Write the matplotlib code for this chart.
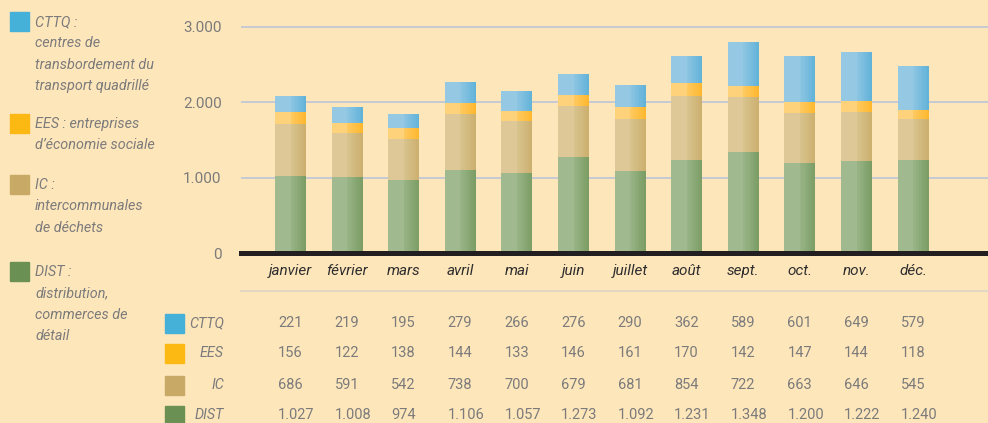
import matplotlib
matplotlib.use("Agg")
import matplotlib.pyplot as plt
import numpy as np
from matplotlib.colors import to_rgb

months = ["janvier", "février", "mars", "avril", "mai", "juin",
          "juillet", "août", "sept.", "oct.", "nov.", "déc."]
series_names = ["CTTQ", "EES", "IC", "DIST"]
cttq = [221, 219, 195, 279, 266, 276, 290, 362, 589, 601, 649, 579]
ees = [156, 122, 138, 144, 133, 146, 161, 170, 142, 147, 144, 118]
ic = [686, 591, 542, 738, 700, 679, 681, 854, 722, 663, 646, 545]
dist = [1027, 1008, 974, 1106, 1057, 1273, 1092, 1231, 1348, 1200, 1222, 1240]
yticks = [0, 1000, 2000, 3000]
legend_texts = [
    ["CTTQ :", "centres de", "transbordement du", "transport quadrillé"],
    ["EES : entreprises", "d’économie sociale"],
    ["IC :", "intercommunales", "de déchets"],
    ["DIST :", "distribution,", "commerces de", "détail"],
]

BG = "#FEE6BB"
solid = {"CTTQ": "#45B0D8", "EES": "#FDB913", "IC": "#C8AA66", "DIST": "#6A9153"}
light = {"CTTQ": "#95C9E3", "EES": "#FED27B", "IC": "#DEC897", "DIST": "#A1B98F"}
dark_start = {"CTTQ": "#8CC5E2", "EES": "#FEC95E", "IC": "#D8C38D", "DIST": "#98B486"}
dark_end = {"CTTQ": "#63B3D9", "EES": "#FEB830", "IC": "#CCB070", "DIST": "#7C9D65"}

FONT = ["Roboto", "DejaVu Sans"]
plt.rcParams["font.family"] = FONT

W, H = 988, 423
fig = plt.figure(figsize=(W / 100, H / 100), dpi=100)
fig.patch.set_facecolor(BG)

zero_py = 253.3
px_per_1000 = 75.5
ax_left, ax_right = 241, 988
ax = fig.add_axes([ax_left / W, (H - zero_py) / H, (ax_right - ax_left) / W, zero_py / H])
ax.set_facecolor(BG)
ax.set_ylim(0, zero_py / px_per_1000 * 1000)
slot = 56.6
x0 = 290.5
ax.set_xlim((ax_left - x0) / slot, (ax_right - x0) / slot)
for s in ax.spines.values():
    s.set_visible(False)
ax.set_xticks([])
ax.set_yticks(yticks)
ax.set_yticklabels(["0", "1.000", "2.000", "3.000"])
ax.tick_params(axis="y", length=0, pad=14, labelsize=11, labelcolor="#7B7B7B")
for t in ax.get_yticklabels():
    t.set_fontfamily(FONT)
for v in yticks[1:]:
    ax.axhline(v, color="#C6CAD4", lw=1.4, zorder=0)

x = np.arange(len(months))
bw = 31 / slot
half = bw / 2
data = {"DIST": dist, "IC": ic, "EES": ees, "CTTQ": cttq}
bottom = np.zeros(len(months))
nslices = 10
for name in ["DIST", "IC", "EES", "CTTQ"]:
    vals = np.array(data[name], dtype=float)
    ax.bar(x - half, vals, width=half, bottom=bottom, align="edge",
           color=light[name], linewidth=0, zorder=2)
    c0 = np.array(to_rgb(dark_start[name]))
    c1 = np.array(to_rgb(dark_end[name]))
    sw = half / nslices
    for k in range(nslices):
        f = k / (nslices - 1)
        ax.bar(x + k * sw, vals, width=sw * 1.05, bottom=bottom, align="edge",
               color=tuple(c0 + (c1 - c0) * f), linewidth=0, zorder=2)
    bottom += vals

ax.axhline(0, color="#231F20", lw=3.6, zorder=3, clip_on=False)


def fy(py):
    return 1 - py / H


def fx(px):
    return px / W


# bottom rule
fig.add_artist(plt.Line2D([fx(241), fx(988)], [fy(290.7), fy(290.7)],
                          color="#E2D7C3", lw=1.5))

# month labels
for i, m in enumerate(months):
    px = ax.transData.transform((i, 0))[0]
    fig.text(px / W, fy(271), m, ha="center", va="center", fontsize=11,
             style="italic", color="#2E2E2E", family=FONT)

# table
row_y = [323, 353, 385, 415]
for r, name in enumerate(series_names):
    fig.patches.append(plt.Rectangle((fx(165), fy(row_y[r] + 9.5)), 19 / W, 19 / H,
                                     transform=fig.transFigure, color=solid[name]))
    fig.text(fx(224), fy(row_y[r]), name, ha="right", va="center", fontsize=10.3,
             style="italic", color="#7B7B7B", family=FONT)
    vals = data[name]
    for i, v in enumerate(vals):
        px = ax.transData.transform((i, 0))[0]
        txt = f"{v:,}".replace(",", ".")
        fig.text((px - 12.5) / W, fy(row_y[r]), txt, ha="left", va="center",
                 fontsize=10.5, color="#7B7B7B", family=FONT)

# legend
leg_box_y = [12, 114, 175, 262]
line_gap = 21.4
for r, name in enumerate(series_names):
    fig.patches.append(plt.Rectangle((fx(10), fy(leg_box_y[r] + 19)), 19 / W, 19 / H,
                                     transform=fig.transFigure, color=solid[name]))
    for j, line in enumerate(legend_texts[r]):
        fig.text(fx(35), fy(leg_box_y[r] + 10 + j * line_gap), line, ha="left",
                 va="center", fontsize=10.4, style="italic", color="#7B7B7B", family=FONT)

fig.savefig("out.png", dpi=100, facecolor=BG)
